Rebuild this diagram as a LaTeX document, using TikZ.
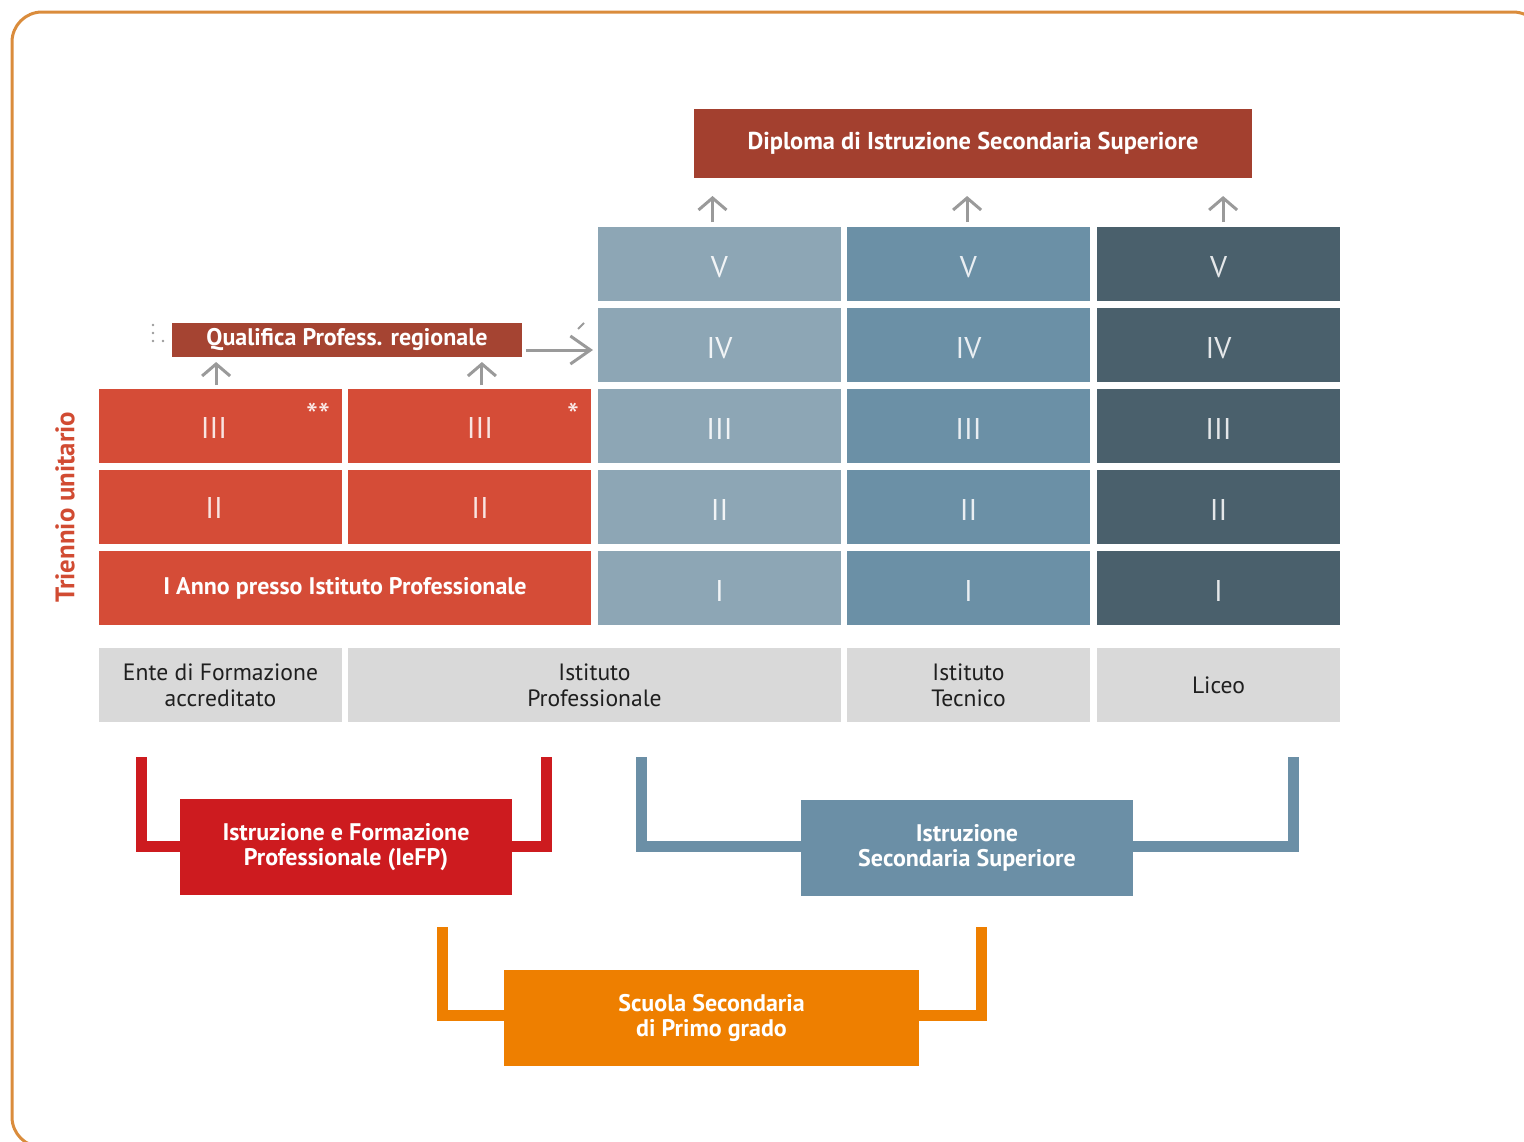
\documentclass[tikz,border=0pt]{standalone}
\usepackage{fontspec}
\setmainfont{PT Sans}
\usetikzlibrary{arrows.meta,calc}
\definecolor{dipred}{HTML}{A3402F}
\definecolor{qualred}{HTML}{A54432}
\definecolor{cellred}{HTML}{D54C37}
\definecolor{colA}{HTML}{8DA6B5}
\definecolor{colB}{HTML}{6B90A6}
\definecolor{colC}{HTML}{4A606C}
\definecolor{labgray}{HTML}{D9D9D9}
\definecolor{iefp}{HTML}{CD1B1F}
\definecolor{sssblue}{HTML}{6B8FA6}
\definecolor{orng}{HTML}{EE7F00}
\definecolor{bordc}{HTML}{DA8C3C}
\definecolor{arrg}{HTML}{9A9A9A}
\definecolor{trien}{HTML}{D14B32}
\newcommand\boxat[7]{\node[#6, minimum width={(#4-#2)*0.5pt}, minimum height={(#5-#3)*0.5pt}] (#1) at ({(#2+#4)/2},{(#3+#5)/2}) {#7};}
\begin{document}
\begin{tikzpicture}[x=0.5pt,y=-0.5pt,
  cellbox/.style={draw=none, inner sep=0pt, outer sep=0pt, font=\fontsize{15}{17}\selectfont, text height=13.5pt, text depth=0pt},
  cA/.style={cellbox, fill=colA, text=white!88!colA},
  cB/.style={cellbox, fill=colB, text=white!85!colB},
  cC/.style={cellbox, fill=colC, text=white!85!colC},
  cR/.style={cellbox, fill=cellred, text=white!85!cellred},
  whitebold/.style={draw=none, inner sep=0pt, outer sep=0pt, text=white, font=\bfseries\fontsize{12}{12.5}\selectfont, align=center},
  labbox/.style={draw=none, fill=labgray, inner sep=0pt, outer sep=0pt, text=black!88, font=\fontsize{11.8}{13}\selectfont, align=center},
  garrow/.style={draw=arrg, line width=1.5pt, -{Straight Barb[length=6pt, width=14pt, line width=1.5pt]}},
  garrowlong/.style={draw=arrg, line width=1.5pt, -{Straight Barb[length=10pt, width=14pt, line width=1.5pt]}},
  bracket/.style={line width=5.5pt, line cap=butt, line join=miter},
  numtext/.style={inner sep=0pt, font=\fontsize{15}{17}\selectfont, text=white!85!cellred},
  startext/.style={inner sep=0pt, font=\fontsize{17}{19}\selectfont, text=white!90!cellred}
]
\useasboundingbox (0,0) rectangle (1524,1141);
\begin{scope}
\clip (0,0) rectangle (1524,1141);
\draw[bordc, line width=1.5pt, rounded corners=15pt] (12,12) rectangle (1543,1147);
\end{scope}

% Diploma
\boxat{dip}{694}{109}{1252}{178}{whitebold}{}
\fill[dipred] (dip.south west) rectangle (dip.north east);
\node[whitebold, font=\bfseries\fontsize{12.2}{14}\selectfont] (diptext) at (dip.center) {Diploma di Istruzione Secondaria Superiore};

% Column A
\boxat{a5}{598}{227}{841}{301}{cA}{V}
\boxat{a4}{598}{308}{841}{382}{cA}{IV}
\boxat{a3}{598}{389}{841}{463}{cA}{III}
\boxat{a2}{598}{470}{841}{544}{cA}{II}
\boxat{a1}{598}{551}{841}{625}{cA}{I}
% Column B
\boxat{b5}{847}{227}{1090}{301}{cB}{V}
\boxat{b4}{847}{308}{1090}{382}{cB}{IV}
\boxat{b3}{847}{389}{1090}{463}{cB}{III}
\boxat{b2}{847}{470}{1090}{544}{cB}{II}
\boxat{b1}{847}{551}{1090}{625}{cB}{I}
% Column C
\boxat{c5}{1097}{227}{1340}{301}{cC}{V}
\boxat{c4}{1097}{308}{1340}{382}{cC}{IV}
\boxat{c3}{1097}{389}{1340}{463}{cC}{III}
\boxat{c2}{1097}{470}{1340}{544}{cC}{II}
\boxat{c1}{1097}{551}{1340}{625}{cC}{I}

% Red cells
\boxat{r3a}{99}{389}{342}{463}{cR}{}
\boxat{r3b}{348}{389}{591}{463}{cR}{}
\boxat{r2a}{99}{470}{342}{544}{cR}{}
\boxat{r2b}{348}{470}{591}{544}{cR}{}
\boxat{r1}{99}{551}{591}{625}{whitebold, fill=cellred}{I Anno presso Istituto Professionale}
\node[numtext] (t3a) at (214,428) {III};
\node[numtext] (t3b) at (480,428) {III};
\node[numtext] (t2a) at (214,508) {II};
\node[numtext] (t2b) at (480,508) {II};
\node[startext] (s1) at (318,415) {**};
\node[startext] (s2) at (573,415) {*};

% Qualifica
\boxat{qual}{172}{323}{522}{357}{whitebold, fill=qualred}{Qualifica Profess. regionale}

% small remnants
\fill[arrg] (153,325) circle (1.3);
\fill[arrg] (153,333) circle (1.3);
\fill[arrg] (153,341) circle (1.3);
\fill[arrg] (163,341) circle (1.3);
\draw[arrg, line width=1pt] (578,329) -- (584,323);

% Triennio
\node[rotate=90, inner sep=0pt, text=trien, font=\bfseries\fontsize{13.4}{15}\selectfont] (trien) at (65,507) {Triennio unitario};

% Label boxes
\boxat{lEnte}{99}{648}{342}{722}{labbox}{Ente di Formazione\\accreditato}
\boxat{lIP}{348}{648}{841}{722}{labbox}{Istituto\\Professionale}
\boxat{lIT}{847}{648}{1090}{722}{labbox}{Istituto\\Tecnico}
\boxat{lLic}{1097}{648}{1340}{722}{labbox}{Liceo}

% Up arrows to diploma
\draw[garrow, shorten <=2.5pt, shorten >=9pt] ([xshift=-3.5pt]a5.north) -- ([xshift=-3.5pt]a5.north |- dip.south);
\draw[garrow, shorten <=2.5pt, shorten >=9pt] ([xshift=-0.7pt]b5.north) -- ([xshift=-0.7pt]b5.north |- dip.south);
\draw[garrow, shorten <=2.5pt, shorten >=9pt] ([xshift=2.3pt]c5.north) -- ([xshift=2.3pt]c5.north |- dip.south);
% Up arrows to qualifica
\draw[garrow, shorten <=2pt, shorten >=2.5pt] ([xshift=-2.2pt]r3a.north) -- ([xshift=-2.2pt]r3a.north |- qual.south);
\draw[garrow, shorten <=2pt, shorten >=2.5pt] ([xshift=6.2pt]r3b.north) -- ([xshift=6.2pt]r3b.north |- qual.south);
% Right arrow
\draw[garrowlong, shorten <=2pt, shorten >=2.5pt] ([yshift=-5pt]qual.east) -- ([yshift=-5pt]qual.east -| a4.west);

% IeFP bracket
\boxat{iefpbox}{180}{799}{512}{895}{whitebold, fill=iefp}{Istruzione e Formazione\\Professionale (IeFP)}
\draw[bracket, iefp] (141.5,757) -- (141.5,846) -- (iefpbox.west |- 0,846);
\draw[bracket, iefp] (546,757) -- (546,846) -- (iefpbox.east |- 0,846);

% SSS bracket
\boxat{sssbox}{801}{800}{1133}{896}{whitebold, fill=sssblue}{Istruzione\\Secondaria Superiore}
\draw[bracket, sssblue] (641,757) -- (641,846) -- (sssbox.west |- 0,846);
\draw[bracket, sssblue] (1293,757) -- (1293,846) -- (sssbox.east |- 0,846);

% Scuola secondaria di primo grado bracket
\boxat{ssp}{504}{970}{919}{1066}{whitebold, fill=orng}{Scuola Secondaria\\di Primo grado}
\draw[bracket, orng] (442.5,927) -- (442.5,1015) -- (ssp.west |- 0,1015);
\draw[bracket, orng] (981.5,927) -- (981.5,1015) -- (ssp.east |- 0,1015);
\end{tikzpicture}
\end{document}
